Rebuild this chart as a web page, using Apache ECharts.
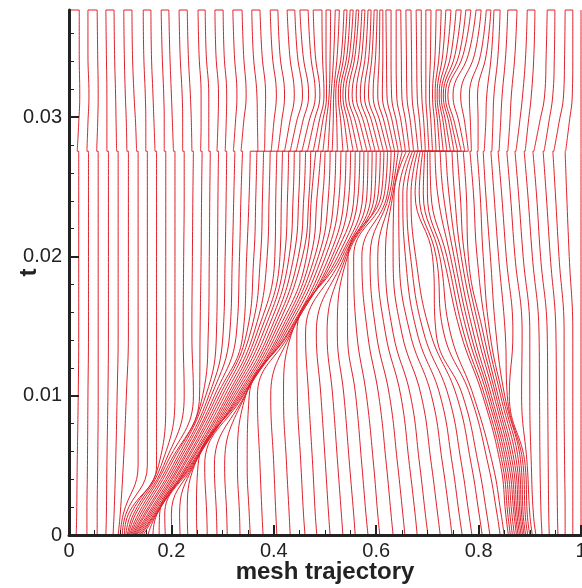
<!DOCTYPE html>
<html><head><meta charset="utf-8">
<script src="https://cdn.jsdelivr.net/npm/echarts@6/dist/echarts.min.js"></script>
<style>html,body{margin:0;padding:0;background:#fff}#c{width:582px;height:588px}</style>
</head><body><div id="c"></div>
<script>
// time levels below the jump (t = 0.02756) and above it
const T_BELOW = [0, 0.0015, 0.005, 0.010, 0.0145, 0.020, 0.0245, 0.02756];
const T_ABOVE = [0.02756, 0.0296, 0.0316, 0.0345, 0.0377];
const Y_MAJOR = [0, 0.01, 0.02, 0.03];
const Y_MINOR = [0.002,0.004,0.006,0.008,0.012,0.014,0.016,0.018,0.022,0.024,0.026,0.028,0.032,0.034,0.036];

// mesh point positions (81 trajectories) at each time level
const X_T0 = [0,.014,.035,.055,.072,.086,.096,
 .100,.104,.108,.111,.114,.116,.118,.120,.122,.124,.126,.128,.130,.132,.135,.138,.141,.145,
 .154,.164,.176,.188,.201,.217,.232,.250,.270,.289,.309,.334,.354,.379,.406,.432,.461,.484,.510,.535,.559,.584,.607,.633,.656,.680,.701,.725,.748,.768,.787,.807,.822,.842,.850,
 .858,.862,.866,.870,.874,.877,.880,.883,.886,.889,.892,.896,.900,.905,.912,
 .924,.938,.955,.969,.984,1];
const X_T1 = [0,.015,.035,.055,.073,.088,.100,
 .106,.111,.116,.121,.126,.130,.135,.139,.143,.147,.150,.154,.157,.160,.163,.166,.168,.170,.171,.172,
 .177,.187,.200,.216,.231,.249,.269,.288,.308,.333,.352,.377,.404,.430,.458,.481,.507,.532,.556,.580,.603,.629,.652,.676,.696,.720,.743,.762,.781,.801,.816,.836,.844,
 .853,.857,.861,.865,.869,.872,.875,.878,.881,.884,.887,.891,.895,.900,.907,
 .922,.937,.954,.969,.984,1];
const X_T2 = [0,.016,.036,.056,.074,.091,.106,
 .135,.153,.171,
 .175,.180,.185,.189,.194,.198,.203,.207,.211,.215,.218,.222,.225,.229,.232,.234,.237,.239,.241,.243,.244,.245,
 .252,.265,.284,.304,.329,.348,.373,.400,.425,.453,.476,.501,.525,.548,.572,.595,.620,.642,.665,.685,.708,.730,.749,.767,.786,.800,.819,.828,
 .843,.847,.851,.855,.859,.863,.867,.871,.875,.879,.883,.887,.891,.895,
 .903,
 .920,.936,.953,.968,.984,1];
const X_T3 = [0,.018,.037,.057,.076,.094,.112,
 .135,.153,.171,.189,.207,.225,.243,
 .255,.261,.267,.273,.278,.284,.289,.294,.299,.304,.309,.313,.317,.321,.325,.329,.332,.335,.338,.340,.343,.344,.345,
 .352,.368,.394,.419,.446,.468,.492,.515,.537,.560,.581,.605,.626,.648,.667,.688,.708,.725,.741,.757,.769,.784,.790,
 .808,.812,.817,.821,.825,.830,.834,.838,.843,.847,.851,.856,.860,
 .884,.900,
 .919,.935,.952,.967,.984,1];
const X_T4 = [0,.019,.038,.057,.077,.096,.116,
 .135,.153,.171,.189,.207,.223,.240,.256,.272,.288,.301,.314,.327,
 .340,.347,.354,.361,.367,.373,.379,.385,.391,.396,.401,.406,.411,.415,.419,.423,.427,.429,.432,.434,.435,
 .445,.462,.483,.504,.524,.544,.562,.583,.600,.618,.633,.650,.666,.680,.693,.706,.717,.732,.745,
 .765,.771,.778,.784,.790,.797,.803,.809,.816,.822,
 .834,.852,.867,.885,.900,.918,.934,.951,.967,.984,1];
const X_T5 = [0,.019,.038,.057,.077,.096,.116,
 .135,.153,.171,.189,.207,.224,.241,.258,.274,.290,.305,.319,.333,.347,.361,.374,.387,
 .402,.412,.421,.430,.439,.448,.456,.464,.472,.480,.487,.494,.501,.508,.514,.519,.525,.530,.534,.538,.541,.544,.545,
 .556,.572,.588,.603,.618,.633,.645,.657,.667,.677,
 .710,.717,.724,.731,.738,.745,.752,.759,.766,.773,.780,
 .797,.809,
 .823,.839,.854,.871,.887,.905,.921,.940,.957,.977,1];
const X_T6 = [0,.019,.038,.057,.077,.096,.116,
 .135,.153,.171,.189,.207,.225,.242,.259,.275,.291,.307,.322,.336,.352,.365,.378,.391,.404,.415,.427,.438,.449,.459,.469,
 .474,.485,.496,.507,.518,.528,.538,.547,.557,.565,.574,.582,.590,.597,.604,.610,.616,.622,.626,.630,.633,.635,
 .644,.652,.660,.668,.676,.684,.692,.700,.707,
 .720,.731,.742,.753,.764,.776,.790,.803,
 .814,.830,.845,.862,.878,.896,.913,.932,.950,.972,1];
const X_T7 = [0,.019,.038,.057,.077,.096,.116,
 .135,.153,.171,.189,.207,.225,.243,.260,.276,.292,.308,.324,.339,
 .354,.367,.380,.393,.406,.417,.429,.440,.451,.462,.472,.482,.492,.500,
 .510,.521,.531,.541,.550,.559,.568,.576,.584,.592,.600,.608,.615,.622,.629,.636,.643,.651,.659,
 .666,.671,.676,.681,.686,.691,.695,.700,.705,
 .715,.725,.736,.748,.758,.770,.783,.797,
 .809,.824,.838,.855,.871,.889,.906,.926,.945,.969,1];
// above the jump
const XA_0 = [0,.016,.035,.054,.074,.093,.113,.132,.150,.168,.186,.204,.222,.240,.257,.273,.289,.305,.321,.336,
 .369,.382,.395,.408,.421,.432,.444,.455,.466,.477,
 .486,.496,.506,.514,.524,.535,.545,.555,.564,.573,.582,.590,.598,.606,.614,.622,.629,.636,.643,.650,.657,.665,.673,
 .682,.689,.696,.703,.710,.717,.724,.731,.738,.745,.752,.759,.766,.773,.780,
 .786,.799,.811,.826,.840,.857,.873,.891,.908,.928,.947,.970,1];
const XA_1 = [0,.019,.037,.056,.074,.092,.112,.130,.150,.166,.186,.202,.222,.239,.258,.273,.291,.307,.325,.341,
 .368,.383,.400,.415,.431,.444,.456,.468,.478,.488,
 .495,.502,.509,.516,.523,.531,.538,.545,.552,.560,.568,.576,.584,.592,.600,.608,.616,.624,.632,.640,.649,.658,.667,
 .676,.685,.693,.700,.707,.714,.720,.725,.731,.736,.742,.747,.753,.762,.773,
 .784,.799,.814,.828,.843,.861,.880,.897,.919,.937,.957,.977,1];
const XA_2 = [0,.021,.039,.057,.074,.091,.110,.127,.149,.164,.185,.200,.221,.237,.258,.273,.292,.308,.328,.346,
 .367,.384,.405,.421,.440,.456,.468,.481,.490,.498,
 .503,.508,.512,.517,.521,.526,.530,.535,.540,.546,.553,.561,.569,.577,.585,.594,.603,.612,.621,.630,.640,.650,.660,
 .670,.680,.689,.697,.704,.710,.715,.719,.723,.727,.731,.735,.740,.750,.765,
 .782,.798,.816,.830,.846,.864,.886,.903,.929,.945,.966,.983,1];
const XA_3 = [0,.020,.037,.056,.073,.089,.108,.124,.146,.161,.182,.197,.217,.233,.254,.268,.287,.303,.323,.341,
 .360,.377,.397,.412,.431,.446,.457,.472,.481,.495,
 .502,.510,.517,.524,.532,.537,.543,.548,.554,.559,.566,.572,.579,.586,.592,.599,.606,.613,.620,.629,.639,.649,.659,
 .669,.679,.688,.697,.706,.715,.723,.730,.738,.746,.754,.762,.770,.780,.792,
 .804,.815,.825,.838,.853,.871,.892,.908,.932,.948,.968,.984,1];
const XA_4 = [0,.020,.037,.055,.072,.088,.107,.123,.145,.160,.180,.195,.215,.231,.252,.266,.285,.301,.320,.338,
 .357,.373,.393,.408,.426,.441,.451,.467,.477,.494,
 .502,.511,.520,.528,.537,.543,.549,.555,.561,.566,.572,.578,.584,.590,.596,.602,.607,.613,.619,.629,.639,.648,.658,
 .668,.678,.688,.697,.707,.717,.727,.736,.746,.756,.766,.775,.785,.795,.805,
 .815,.824,.830,.842,.857,.875,.895,.910,.934,.949,.969,.984,1];

const BELOW = [X_T0, X_T1, X_T2, X_T3, X_T4, X_T5, X_T6, X_T7];
const ABOVE = [XA_0, XA_1, XA_2, XA_3, XA_4];
const RED = '#e0202a';
const N = X_T0.length;
const series = [];
const lineBase = {type:'line', smooth:0.45, symbol:'none', silent:true, clip:false, z:2,
  lineStyle:{color:RED, width:1}, itemStyle:{color:RED}};
for (let i = 0; i < N; i++) {
  series.push(Object.assign({}, lineBase, {data: T_BELOW.map((t,k)=>[BELOW[k][i], t])}));
  series.push(Object.assign({}, lineBase, {data: T_ABOVE.map((t,k)=>[ABOVE[k][i], t])}));
}
// straight connector segments: jump at t = 0.02756 and the top turns between paired trajectories
const tJ = T_BELOW[T_BELOW.length-1];
const tTop = T_ABOVE[T_ABOVE.length-1];
const seg = [];
for (let i = 0; i < N; i++) { seg.push([X_T7[i], tJ], [XA_0[i], tJ], ['-','-']); }
for (let i = 0; i + 1 < N; i += 2) { seg.push([XA_4[i], tTop], [XA_4[i+1], tTop], ['-','-']); }
series.push({type:'line', smooth:false, symbol:'none', silent:true, clip:false, z:2, connectNulls:false,
  lineStyle:{color:RED, width:1}, itemStyle:{color:RED}, data: seg});

const chart = echarts.init(document.getElementById('c'), null, {renderer:'canvas'});
const FONT = 'Liberation Sans, Arial, Helvetica, sans-serif';
chart.setOption({
  animation:false,
  backgroundColor:'#fff',
  grid:{left:69, right:1, top:10, bottom:53, containLabel:false, outerBoundsMode:'none'},
  xAxis:{type:'value', min:0, max:1, interval:0.2, z:10,
    name:'mesh trajectory', nameLocation:'middle', nameGap:25, nameMoveOverlap:false,
    nameTextStyle:{fontFamily:FONT, fontWeight:'bold', fontSize:24, color:'#222'},
    axisLine:{show:true, onZero:false, lineStyle:{color:'#222', width:3}},
    axisTick:{show:true, inside:true, length:10, lineStyle:{color:'#222', width:2}},
    minorTick:{show:true, splitNumber:4, length:5, lineStyle:{color:'#222', width:1}},
    splitLine:{show:false},
    axisLabel:{margin:6, fontFamily:FONT, fontSize:20, color:'#222',
      formatter:v=>String(Math.round(v*10)/10)}},
  yAxis:[{type:'value', min:0, max:0.0377, interval:0.01, z:10,
    name:'t', nameLocation:'middle', nameGap:28, nameMoveOverlap:false,
    nameTextStyle:{fontFamily:FONT, fontWeight:'bold', fontSize:24, color:'#222'},
    axisLine:{show:true, onZero:false, lineStyle:{color:'#222', width:3}},
    axisTick:{show:true, inside:true, length:10, customValues:Y_MAJOR, lineStyle:{color:'#222', width:2}},
    splitLine:{show:false},
    axisLabel:{margin:7, fontFamily:FONT, fontSize:20, color:'#222', customValues:Y_MAJOR,
      formatter:v=>v===0?'0':(+v).toFixed(2)}},
   {type:'value', min:0, max:0.0377, position:'left', z:10,
    axisLine:{show:false}, splitLine:{show:false}, axisLabel:{show:false},
    axisTick:{show:true, inside:true, length:5, customValues:Y_MINOR, lineStyle:{color:'#222', width:1}}}],
  series: series
});
</script></body></html>
